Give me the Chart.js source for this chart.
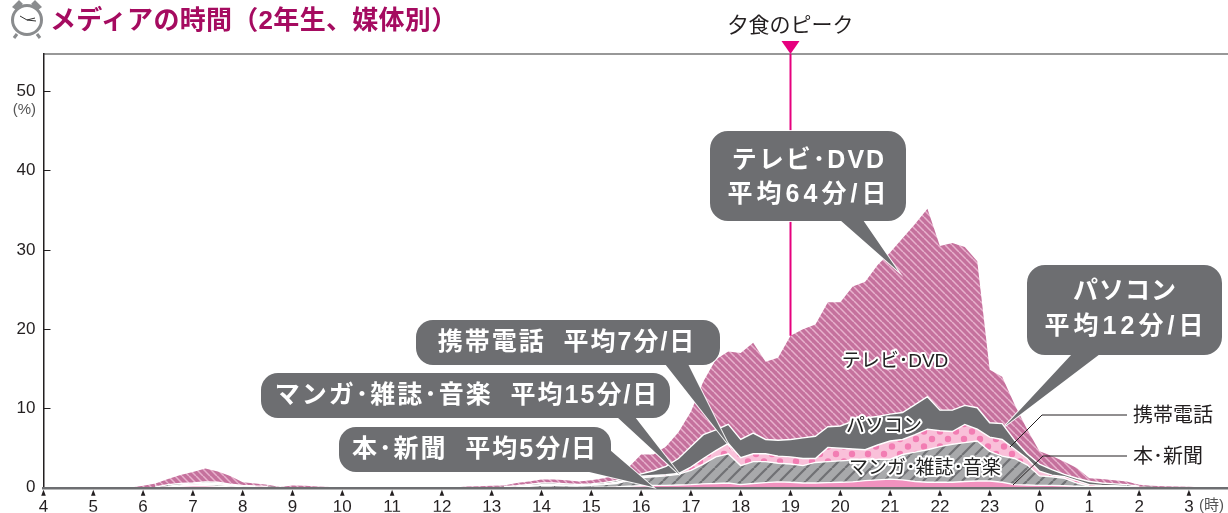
<!DOCTYPE html>
<html lang="ja">
<head>
  <meta charset="utf-8">
  <title>メディアの時間（2年生、媒体別）</title>
  <script src="https://cdn.jsdelivr.net/npm/chart.js@4/dist/chart.umd.js"></script>
  <style>
  html, body { margin: 0; padding: 0; background: #fff; }
  #wrap { position: relative; width: 1228px; height: 513px; overflow: hidden; }
  #wrap canvas { position: absolute; left: 0; top: 0; }
  #clock { position: absolute; left: 8px; top: -3px; }
  h1 {
    position: absolute; left: 50px; top: 2px; margin: 0; z-index: 2;
    font: bold 26px/36px "Liberation Sans", "Noto Sans CJK JP", sans-serif;
    color: #a50b60; white-space: nowrap; letter-spacing: 0.3px;
  }
  </style>
</head>
<body>
<div id="wrap">
  <canvas id="chart" width="1228" height="513"></canvas>
  <svg id="clock" width="38" height="42" viewBox="0 0 38 42">
    <path d="M4 10 L11 3 L15 7 L8 13 Z M34 10 L27 3 L23 7 L30 13 Z" fill="#8a8c8e"/>
    <circle cx="19" cy="23" r="14.5" fill="#fff" stroke="#8a8c8e" stroke-width="3"/>
    <path d="M9 37 L6 41 M29 37 L32 41" stroke="#8a8c8e" stroke-width="3"/>
    <path d="M12 19 L19 23 L27 21 M19 23 L28 24" stroke="#333" stroke-width="1" fill="none"/>
  </svg>
  <h1>メディアの時間（2年生、媒体別）</h1>
</div>
<script>
// 15 minute slots, 4:00 to next day 3:45
var hours = [4,4.25,4.5,4.75,5,5.25,5.5,5.75,6,6.25,6.5,6.75,7,7.25,7.5,7.75,8,8.25,8.5,8.75,9,9.25,9.5,9.75,
  10,10.25,10.5,10.75,11,11.25,11.5,11.75,12,12.25,12.5,12.75,13,13.25,13.5,13.75,14,14.25,14.5,14.75,15,15.25,15.5,15.75,
  16,16.25,16.5,16.75,17,17.25,17.5,17.75,18,18.25,18.5,18.75,19,19.25,19.5,19.75,20,20.25,20.5,20.75,21,21.25,21.5,21.75,
  22,22.25,22.5,22.75,23,23.25,23.5,23.75,24,24.25,24.5,24.75,25,25.25,25.5,25.75,26,26.25,26.5,26.75,27,27.25,27.5,27.75];

var book = [0,0,0,0,0,0,0,0,0,.02,.1,.2,.25,.25,.2,.12,.08,.08,.05,.02,.03,.03,.02,.01,
  .01,0,0,0,0,0,0,0,0,0,.01,.02,.02,.03,.04,.05,.06,.06,.05,.05,.06,.08,.12,.2,
  .25,.3,.3,.35,.4,.5,.55,.6,.4,.55,.65,.75,.7,.6,.6,.65,.7,.75,.9,1,1.1,1,.8,.7,
  .7,.7,.8,.85,.85,.7,.4,.35,.3,.3,.25,.2,.1,.1,.08,.05,.03,.02,.02,.01,.01,.01,0,0];
var manga = [0,0,0,0,0,0,0,0,0,.01,.03,.05,.1,.15,.2,.13,.04,.02,.03,.01,.02,.02,.01,.01,
  0,0,0,0,0,0,0,0,0,0,.02,.03,.03,.04,.08,.15,.24,.24,.2,.17,.24,.32,.43,.7,
  1.05,1.1,1.2,1.35,1.8,2.5,3.35,3.7,2.4,2.75,2.65,2.35,2.3,2.2,2.6,2.65,2.7,2.75,2.7,2.6,2.5,3.2,3.7,4.1,
  4.5,4.8,4.9,5.05,3.75,3.3,3.3,2.55,1.2,1.1,.95,.4,.1,.05,.07,.1,.07,.03,.02,.02,.01,.01,.01,.01];
var pc = [0,0,0,0,0,0,0,0,.02,.02,.07,.1,.15,.2,.15,.1,.08,.05,.04,.02,.03,.02,.02,.01,
  .01,0,0,0,0,0,0,0,0,0,.01,.01,.02,.03,.05,.08,.1,.1,.1,.08,.08,.1,.15,.15,
  .15,.15,.15,.1,.4,.7,.8,1.3,1,1,1,.9,.9,.9,.5,1.8,1.6,1.4,1.2,1.8,2.3,1.9,2.2,2.6,
  2,1.6,2.3,1.5,1.8,2.1,1.2,.8,.6,.2,.2,.3,.2,.15,.1,.05,.05,.03,.02,.01,.01,0,0,0];
var phone = [0,0,0,0,0,0,0,0,.03,.05,.2,.2,.1,.15,.15,.1,.1,.07,.06,.01,.02,.03,.01,.01,
  0,0,0,0,0,0,0,0,0,0,.02,.03,.03,.04,.08,.14,.2,.2,.15,.12,.12,.15,.2,.25,
  .3,.6,1.05,1.9,2.6,3,2.6,2.4,2.3,2.6,1.8,2,2.2,2.6,2.8,2.6,2.8,3.5,4,3.6,3.4,3.4,3.8,4.1,
  2.6,2.7,2.4,2.7,1.8,2,1.1,.6,.9,.7,.3,.3,.4,.3,.25,.2,.05,.04,.02,.02,.01,.01,.01,0];
var tv = [0,0,0,0,0,0,0,.05,.2,.45,.7,1.05,1.4,1.7,1.35,1.05,.4,.33,.22,.04,.2,.15,.09,.06,
  .03,.02,.02,.03,.02,.02,.02,.03,.03,.05,.09,.11,.15,.16,.35,.38,.45,.45,.45,.38,.45,.55,.7,1.3,
  2.45,2.05,2.5,3.3,4.4,6.7,8.9,9.2,10.9,11.4,9.8,10.4,13.1,13.7,14.1,15.7,15.6,17,17.2,19.1,20.4,22,22.8,23.7,
  20.7,21.1,20,18.5,6.7,5.9,4.5,3.1,1.6,1.7,1.6,1.3,.4,.5,.45,.4,.2,.13,.12,.09,.08,.05,.03,.02];

var yTicks = [0, 10, 20, 30, 40, 50];
var dinnerPeak = 19;
var seriesNames = ['本･新聞', 'マンガ･雑誌･音楽', 'パソコン', '携帯電話', 'テレビ･DVD'];

var BOLD = 'bold 25px "Liberation Sans", "Noto Sans CJK JP", sans-serif';
var JP = '"Liberation Sans", "Noto Sans CJK JP", sans-serif';
var NARROW = '"Liberation Sans Narrow", "Liberation Sans", sans-serif';

function tile(w, h, paint) {
  var c = document.createElement('canvas');
  c.width = w;
  c.height = h;
  paint(c.getContext('2d'));
  return c.getContext('2d').createPattern(c, 'repeat');
}

function stripes(size, base, line, width, down) {
  return tile(size, size, function(g) {
    g.fillStyle = base;
    g.fillRect(0, 0, size, size);
    g.strokeStyle = line;
    g.lineWidth = width;
    [-size, 0, size].forEach(function(o) {
      g.beginPath();
      if (down) {
        g.moveTo(o, 0);
        g.lineTo(o + size, size);
      } else {
        g.moveTo(o, size);
        g.lineTo(o + size, 0);
      }
      g.stroke();
    });
  });
}

var tvFill = stripes(7, '#c5719d', '#e8b2cd', 1.5, true);
var mangaFill = stripes(13, '#a8a9ab', '#707174', 2.2, false);
var dotFill = tile(16, 15, function(g) {
  g.fillStyle = '#f9c0d9';
  g.fillRect(0, 0, 16, 15);
  g.fillStyle = '#f27db3';
  g.beginPath();
  g.arc(4, 4, 3.2, 0, Math.PI * 2);
  g.arc(12, 11.5, 3.2, 0, Math.PI * 2);
  g.fill();
});

function series(label, values, fill) {
  return {
    label: label,
    data: values.map(function(v, i) { return {x: hours[i], y: v}; }),
    backgroundColor: fill,
    borderColor: '#fff',
    borderWidth: label === seriesNames[4] ? 0 : 1.4,
    pointRadius: 0,
    tension: 0,
    fill: label === seriesNames[0] ? 'origin' : '-1',
    // no white edge where a layer has almost nothing in it
    segment: {
      borderColor: function(c) {
        return c.p0.parsed.y + c.p1.parsed.y < 0.12 ? 'rgba(255,255,255,0)' : '#fff';
      }
    }
  };
}

function callout(ctx, b) {
  ctx.beginPath();
  ctx.roundRect(b.x, b.y, b.w, b.h, b.r);
  ctx.moveTo(b.tail[0][0], b.tail[0][1]);
  ctx.lineTo(b.tail[1][0], b.tail[1][1]);
  ctx.lineTo(b.tail[2][0], b.tail[2][1]);
  ctx.closePath();
  ctx.strokeStyle = 'rgba(255,255,255,0.9)';
  ctx.lineWidth = 2;
  ctx.stroke();
  ctx.fillStyle = '#6d6e71';
  ctx.fill('nonzero');
  ctx.fillStyle = '#fff';
  ctx.font = BOLD;
  ctx.textAlign = 'center';
  ctx.textBaseline = 'middle';
  b.lines.forEach(function(t) {
    ctx.letterSpacing = t[3];
    ctx.fillText(t[0], t[1], t[2]);
  });
  ctx.letterSpacing = '0px';
}

function halo(ctx, text, x, y) {
  ctx.font = '19px ' + JP;
  ctx.textAlign = 'center';
  ctx.textBaseline = 'middle';
  ctx.lineJoin = 'round';
  ctx.strokeStyle = '#fff';
  ctx.lineWidth = 4;
  ctx.strokeText(text, x, y);
  ctx.fillStyle = '#222';
  ctx.fillText(text, x, y);
}

var callouts = [
  {x: 710, y: 131, w: 196, h: 90, r: 18, tail: [[840, 220], [863, 220], [898, 271]],
    lines: [['テレビ･DVD', 809, 161, '2px'], ['平均64分/日', 809, 195, '4px']]},
  {x: 1027, y: 265, w: 195, h: 90, r: 18, tail: [[1072, 354], [1100, 354], [1005, 426]],
    lines: [['パソコン', 1125, 292, '1px'], ['平均12分/日', 1126, 327, '4px']]},
  {x: 416, y: 320, w: 304, h: 45, r: 17, tail: [[665, 364], [688, 364], [728, 444]],
    lines: [['携帯電話  平均7分/日', 567, 343, '2px']]},
  {x: 261, y: 373, w: 409, h: 45, r: 17, tail: [[617, 417], [635, 417], [680, 475]],
    lines: [['マンガ･雑誌･音楽  平均15分/日', 467, 396, '2px']]},
  {x: 339, y: 427, w: 272, h: 45, r: 17, tail: [[585, 471], [610, 450], [653, 487]],
    lines: [['本･新聞  平均5分/日', 475, 450, '2px']]}
];

var overlay = {
  id: 'overlay',
  afterDraw: function(chart) {
    var ctx = chart.ctx, x = chart.scales.x, y = chart.scales.y, area = chart.chartArea;
    ctx.save();

    // top rule
    ctx.strokeStyle = '#333';
    ctx.lineWidth = 1.2;
    ctx.beginPath();
    ctx.moveTo(area.left, area.top);
    ctx.lineTo(area.right, area.top);
    ctx.stroke();

    // triangle tick marks below the axis
    ctx.fillStyle = '#231f20';
    x.ticks.forEach(function(t) {
      var px = x.getPixelForValue(t.value);
      ctx.beginPath();
      ctx.moveTo(px, area.bottom + 2);
      ctx.lineTo(px - 2.3, area.bottom + 8);
      ctx.lineTo(px + 2.3, area.bottom + 8);
      ctx.fill();
    });

    // dinner peak marker, ends on the top of the stack
    var i = hours.indexOf(dinnerPeak);
    var total = book[i] + manga[i] + pc[i] + phone[i] + tv[i];
    var px = x.getPixelForValue(dinnerPeak);
    ctx.strokeStyle = '#e6007e';
    ctx.lineWidth = 2;
    ctx.beginPath();
    ctx.moveTo(px, area.top);
    ctx.lineTo(px, y.getPixelForValue(total));
    ctx.stroke();
    ctx.fillStyle = '#e6007e';
    ctx.beginPath();
    ctx.moveTo(px - 9, area.top - 13);
    ctx.lineTo(px + 9, area.top - 13);
    ctx.lineTo(px, area.top);
    ctx.fill();
    ctx.fillStyle = '#231f20';
    ctx.font = '21px ' + JP;
    ctx.textAlign = 'center';
    ctx.textBaseline = 'middle';
    ctx.fillText('夕食のピーク', px, 26);

    // leaders for the two thin layers
    ctx.strokeStyle = '#231f20';
    ctx.lineWidth = 1;
    ctx.beginPath();
    ctx.moveTo(1010, 447);
    ctx.lineTo(1042, 415);
    ctx.lineTo(1127, 415);
    ctx.moveTo(1013, 485);
    ctx.lineTo(1043, 456);
    ctx.lineTo(1127, 456);
    ctx.stroke();

    callouts.forEach(function(b) { callout(ctx, b); });

    halo(ctx, seriesNames[4], 895, 362);
    halo(ctx, seriesNames[2], 884, 427);
    halo(ctx, seriesNames[1], 925, 469);

    ctx.fillStyle = '#231f20';
    ctx.font = '20px ' + JP;
    ctx.textAlign = 'left';
    ctx.fillText(seriesNames[3], 1133, 416);
    ctx.fillText(seriesNames[0], 1133, 457);

    ctx.fillStyle = '#555';
    ctx.font = '15px ' + JP;
    ctx.textAlign = 'right';
    ctx.fillText('(%)', 36, 110);
    ctx.textAlign = 'left';
    ctx.fillText('(時)', 1199, 506);
    ctx.restore();
  }
};

new Chart(document.getElementById('chart').getContext('2d'), {
  type: 'line',
  data: {
    datasets: [
      series(seriesNames[0], book, '#f192bf'),
      series(seriesNames[1], manga, mangaFill),
      series(seriesNames[2], pc, dotFill),
      series(seriesNames[3], phone, '#6d6e71'),
      series(seriesNames[4], tv, tvFill)
    ]
  },
  options: {
    responsive: false,
    animation: false,
    events: [],
    layout: {padding: {top: 54, left: 0, right: 0, bottom: 0}},
    plugins: {legend: {display: false}, tooltip: {enabled: false}, title: {display: false}},
    scales: {
      x: {
        type: 'linear',
        min: 4,
        max: 27.785,
        afterFit: function(s) { s.height = 24; },
        grid: {display: false, drawTicks: false},
        border: {display: true, color: '#6d6e71', width: 2.5, z: 1},
        ticks: {
          stepSize: 1,
          includeBounds: false,
          autoSkip: false,
          maxRotation: 0,
          padding: 9,
          color: '#231f20',
          font: {family: NARROW, size: 17},
          callback: function(v) { return v % 24; }
        }
      },
      y: {
        stacked: true,
        min: 0,
        max: 54.74,
        afterFit: function(s) { s.width = 43.5; },
        afterBuildTicks: function(s) {
          s.ticks = yTicks.map(function(v) { return {value: v}; });
        },
        grid: {drawOnChartArea: false, drawTicks: true, tickLength: -7, color: '#231f20', lineWidth: 1},
        border: {display: true, color: '#231f20', width: 1.5},
        ticks: {
          padding: 15,
          color: '#231f20',
          font: {family: NARROW, size: 17}
        }
      }
    }
  },
  plugins: [overlay]
});
</script>
</body>
</html>
